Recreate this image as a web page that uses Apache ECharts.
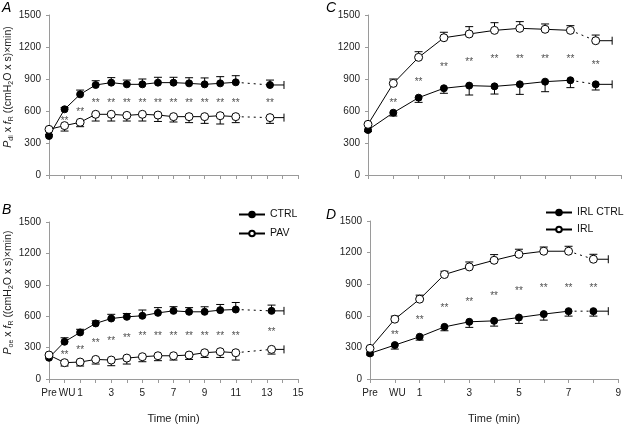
<!DOCTYPE html>
<html><head><meta charset="utf-8">
<script src="https://cdn.jsdelivr.net/npm/echarts@6/dist/echarts.min.js"></script>
<style>html,body{margin:0;padding:0;background:#fff}#c{width:624px;height:431px}</style>
</head><body><div id="c"></div>
<script>
// ---------- Panel A : Pdi x fR, CTRL vs PAV ----------
const timeA = [-1,0,1,2,3,4,5,6,7,8,9,10,11,13.2];
const ctrlA = [366,616,756,844,866,850,850,866,866,859,850,859,869,844];
const ctrlA_sd = [15,15,40,40,47,40,50,50,50,53,60,63,62,46];
const pavA = [428,463,494,569,569,559,569,562,547,547,547,556,547,538];
const pavA_sd = [15,51,41,63,63,53,63,60,50,56,63,78,56,54];
const lastTimeSdA = 0.9;
const starsA_t = [0,1,2,3,4,5,6,7,8,9,10,11,13.2];
const starsA_y = [522,609,687,687,687,687,687,687,687,687,687,687,687];

// ---------- Panel B : Poe x fR, CTRL vs PAV ----------
const timeB = [-1,0,1,2,3,4,5,6,7,8,9,10,11,13.3];
const ctrlB = [203,356,445,531,578,594,604,632,651,642,642,658,664,651];
const ctrlB_sd = [15,38,30,25,40,32,55,50,40,40,48,54,67,55];
const pavB = [229,156,162,187,181,200,213,222,222,229,251,261,251,283];
const pavB_sd = [15,32,38,44,54,57,48,47,41,42,45,55,70,45];
const lastTimeSdB = 0.8;
const starsB_t = [0,1,2,3,4,5,6,7,8,9,10,11,13.3];
const starsB_y = [245,292,356,378,410,429,429,429,429,429,429,429,461];

// ---------- Panel C : Pdi x fR, IRL CTRL vs IRL ----------
const timeC = [-1,0,1,2,3,4,5,6,7,8];
const irlCtrlC = [422,584,725,813,838,831,850,875,888,850];
const irlCtrlC_sd = [15,31,44,47,88,72,94,94,69,53];
const irlC = [475,859,1103,1287,1322,1356,1375,1366,1356,1259];
const irlC_sd = [15,41,53,51,69,72,63,50,44,53];
const lastTimeSdC = 0.65;
const starsC_t = [0,1,2,3,4,5,6,7,8];
const starsC_y = [694,891,1031,1078,1100,1100,1100,1100,1047];

// ---------- Panel D : Poe x fR, IRL CTRL vs IRL ----------
const timeD = [-1,0,1,2,3,4,5,6,7,8];
const irlCtrlD = [243,322,401,495,543,552,584,616,644,644];
const irlCtrlD_sd = [15,38,32,37,53,50,56,57,47,47];
const irlD = [291,568,758,992,1064,1127,1184,1213,1213,1137];
const irlD_sd = [15,29,38,31,47,54,48,40,47,47];
const lastTimeSdD = 0.6;
const starsD_t = [0,1,2,3,4,5,6,7,8];
const starsD_y = [433,575,695,748,805,853,881,881,881];

const labelsAB = {'-1':'Pre','0':'WU','1':'1','3':'3','5':'5','7':'7','9':'9','11':'11','13':'13','15':'15'};
const labelsCD = {'-1':'Pre','0':'WU','1':'1','3':'3','5':'5','7':'7','9':'9'};

const FONT = '"Liberation Sans", Arial, sans-serif';
const AXC = '#9a9a9a';

const grids = [
  {left:49, top:15, width:249, height:160},
  {left:49, top:222, width:249, height:157},
  {left:368, top:15, width:253, height:160},
  {left:370, top:221, width:252, height:158}
];

// main x axis: ticks + all labels except "Pre" (drawn by an overlay axis so the tight Pre/WU pair is not culled)
function xAxis(gi, max, labels) {
  return {
    type:'value', gridIndex:gi, min:-1, max:max, interval:1,
    axisLine:{show:true, onZero:false, lineStyle:{color:AXC, width:1}},
    axisTick:{show:true, length:4, lineStyle:{color:AXC}},
    splitLine:{show:false},
    axisLabel:{show:!!labels, margin:9, fontSize:10, color:'#222', fontFamily:FONT,
      showMinLabel:true, showMaxLabel:true, hideOverlap:false,
      rich:{wu:{padding:[0,0,0,5], fontSize:10, color:'#222', fontFamily:FONT}},
      formatter: v => {
        if (!labels || v === -1) return '';
        const s = labels[String(v)] || '';
        return v === 0 ? '{wu|' + s + '}' : s;
      }},
    name: labels ? 'Time (min)' : '', nameLocation:'middle', nameGap:34,
    nameTextStyle:{fontSize:11, color:'#222', fontFamily:FONT}
  };
}
function preAxis(gi, max, labels) {
  return {
    type:'value', gridIndex:gi, min:-1, max:max, interval:1, position:'bottom',
    axisLine:{show:false, onZero:false}, axisTick:{show:false}, splitLine:{show:false},
    axisLabel:{show:true, margin:9, fontSize:10, color:'#222', fontFamily:FONT, showMinLabel:true,
      formatter: v => v === -1 ? labels[String(v)] : ''}
  };
}
const rich = {
  it:{fontStyle:'italic', fontSize:10.5, fontFamily:FONT, color:'#222', lineHeight:14},
  n:{fontSize:10.5, fontFamily:FONT, color:'#222', lineHeight:14},
  sub:{fontSize:7, fontFamily:FONT, color:'#222', lineHeight:14, verticalAlign:'bottom'}
};
function yAxis(gi, subP) {
  return {
    type:'value', gridIndex:gi, min:0, max:1500, interval:300,
    axisLine:{show:true, onZero:false, lineStyle:{color:AXC, width:1}},
    axisTick:{show:true, length:3, lineStyle:{color:AXC}},
    splitLine:{show:false},
    axisLabel:{margin:8, fontSize:10, color:'#222', fontFamily:FONT, formatter: v => String(v)},
    name: subP ? '{it|P}{sub|' + subP + '}{n| x }{it|f}{sub|R}{n| ((cmH}{sub|2}{n|O x s)×min)}' : '',
    nameLocation:'middle', nameRotate:90, nameGap:29,
    nameTextStyle:{rich:rich, padding:[0,0,0,16]}
  };
}

function lineSeries(gi, name, time, vals, filled) {
  const n = time.length;
  const solid = time.slice(0, n-1).map((t,i)=>[t, vals[i]]);
  const dotted = [{value:[time[n-2], vals[n-2]], symbol:'none'}, {value:[time[n-1], vals[n-1]]}];
  const size = filled ? 7 : 8;
  const style = filled ? {color:'#000', borderColor:'#000', borderWidth:1}
                       : {color:'#fff', borderColor:'#000', borderWidth:1};
  return [
    {type:'line', name:name+' ', xAxisIndex:gi, yAxisIndex:gi, data:dotted, symbol:'circle', symbolSize:size,
     itemStyle:style, lineStyle:{color:'#000', width:1, type:[2,4]}, z:3, silent:true, clip:false, animation:false},
    {type:'line', name:name, xAxisIndex:gi, yAxisIndex:gi, data:solid, symbol:'circle', symbolSize:size, showSymbol:true,
     itemStyle:style, lineStyle:{color:'#000', width:1}, z:4, silent:true, clip:false, animation:false}
  ];
}
function errSeries(gi, time, vals, sd, dir, hsd) {
  const data = time.map((t,i)=>[t, vals[i], sd[i], dir, i===time.length-1 ? hsd : 0]);
  return {
    type:'custom', xAxisIndex:gi, yAxisIndex:gi, data:data, z:2, silent:true, clip:false, animation:false,
    renderItem:(params, api) => {
      const t = api.value(0), v = api.value(1), s = api.value(2), d = api.value(3), h = api.value(4);
      const p = api.coord([t, v]);
      const e = api.coord([t, v + d*s]);
      const st = {stroke:'#000', lineWidth:1, fill:null};
      const ch = [
        {type:'line', shape:{x1:p[0], y1:p[1], x2:e[0], y2:e[1]}, style:st},
        {type:'line', shape:{x1:e[0]-4, y1:e[1], x2:e[0]+4, y2:e[1]}, style:st}
      ];
      if (h) {
        const q = api.coord([t + h, v]);
        ch.push({type:'line', shape:{x1:p[0], y1:p[1], x2:q[0], y2:q[1]}, style:st});
        ch.push({type:'line', shape:{x1:q[0], y1:q[1]-4, x2:q[0], y2:q[1]+4}, style:st});
      }
      return {type:'group', children:ch};
    }
  };
}
function starSeries(gi, ts, ys) {
  return {
    type:'scatter', xAxisIndex:gi, yAxisIndex:gi, data:ts.map((t,i)=>[t, ys[i]]), symbolSize:0, silent:true,
    animation:false, z:5,
    label:{show:true, position:'inside', formatter:'**', fontSize:10, color:'#222', fontFamily:FONT, offset:[0,2]}
  };
}

const series = [].concat(
  errSeries(0, timeA, ctrlA, ctrlA_sd, 1, lastTimeSdA),
  errSeries(0, timeA, pavA, pavA_sd, -1, lastTimeSdA),
  lineSeries(0, 'CTRL', timeA, ctrlA, true),
  lineSeries(0, 'PAV', timeA, pavA, false),
  starSeries(0, starsA_t, starsA_y),

  errSeries(1, timeB, ctrlB, ctrlB_sd, 1, lastTimeSdB),
  errSeries(1, timeB, pavB, pavB_sd, -1, lastTimeSdB),
  lineSeries(1, 'CTRL', timeB, ctrlB, true),
  lineSeries(1, 'PAV', timeB, pavB, false),
  starSeries(1, starsB_t, starsB_y),

  errSeries(2, timeC, irlCtrlC, irlCtrlC_sd, -1, lastTimeSdC),
  errSeries(2, timeC, irlC, irlC_sd, 1, lastTimeSdC),
  lineSeries(2, 'IRL CTRL', timeC, irlCtrlC, true),
  lineSeries(2, 'IRL', timeC, irlC, false),
  starSeries(2, starsC_t, starsC_y),

  errSeries(3, timeD, irlCtrlD, irlCtrlD_sd, -1, lastTimeSdD),
  errSeries(3, timeD, irlD, irlD_sd, 1, lastTimeSdD),
  lineSeries(3, 'IRL CTRL', timeD, irlCtrlD, true),
  lineSeries(3, 'IRL', timeD, irlD, false),
  starSeries(3, starsD_t, starsD_y)
);

const letter = (txt, x, y) => ({type:'text', left:x, top:y, silent:true,
  style:{text:txt, font:'italic 14px ' + FONT, fill:'#000'}});

const chart = echarts.init(document.getElementById('c'), null, {renderer:'canvas'});
chart.setOption({
  animation:false,
  backgroundColor:'#fff',
  grid: grids,
  xAxis:[xAxis(0,15,null), xAxis(1,15,labelsAB), xAxis(2,9,null), xAxis(3,9,labelsCD),
         preAxis(1,15,labelsAB), preAxis(3,9,labelsCD)],
  yAxis:[yAxis(0,'di'), yAxis(1,'oe'), yAxis(2,null), yAxis(3,null)],
  legend:[
    {data:['CTRL','PAV'], left:233, top:204, orient:'vertical', itemWidth:26, itemHeight:7, itemGap:8,
     textStyle:{fontSize:10.5, color:'#111', fontFamily:FONT}, selectedMode:false},
    {data:['IRL CTRL','IRL'], left:540, top:202, orient:'vertical', itemWidth:26, itemHeight:7, itemGap:6,
     textStyle:{fontSize:10.5, color:'#111', fontFamily:FONT}, selectedMode:false}
  ],
  graphic:[letter('A',2,1), letter('B',2,203), letter('C',326,1), letter('D',326,208)],
  series: series
});
</script></body></html>
